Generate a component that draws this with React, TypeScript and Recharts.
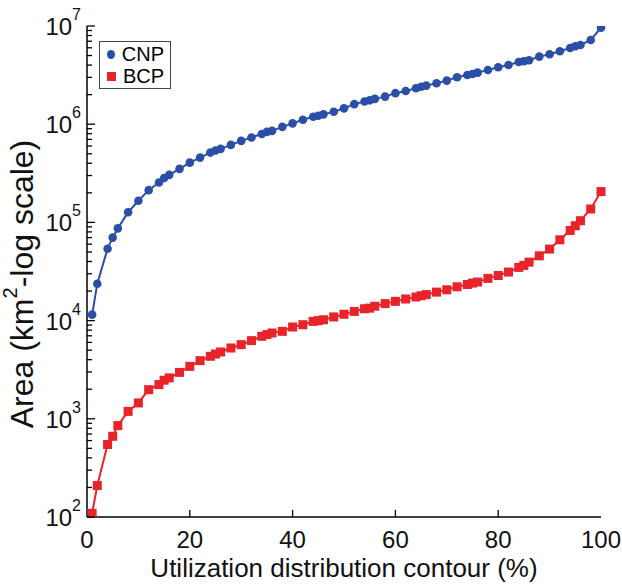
import React from 'react';
import {
  LineChart,
  Line,
  XAxis,
  YAxis,
  Legend,
  Label,
} from 'recharts';

// utilization distribution contour (%)
const contour = [
  1, 2, 4, 5, 6, 8, 10, 12, 14, 15, 16, 18, 20, 22, 24, 25, 26, 28, 30, 32, 34,
  35, 36, 38, 40, 42, 44, 45, 46, 48, 50, 52, 54, 55, 56, 58, 60, 62, 64, 65,
  66, 68, 70, 72, 74, 75, 76, 78, 80, 82, 84, 85, 86, 88, 90, 92, 94, 95, 96,
  98, 100,
];

// area, km2
const cnp = [
  11500, 23700, 54000, 70000, 87000, 127000, 166000, 213000, 255000, 283000,
  305000, 351000, 406000, 457000, 514000, 539000, 561000, 616000, 677000,
  731000, 796000, 835000, 855000, 940000, 1020000, 1110000, 1190000, 1220000,
  1260000, 1340000, 1450000, 1600000, 1700000, 1750000, 1810000, 1910000,
  2070000, 2180000, 2320000, 2410000, 2470000, 2610000, 2780000, 3010000,
  3170000, 3250000, 3350000, 3570000, 3800000, 4010000, 4300000, 4370000,
  4480000, 4880000, 5160000, 5530000, 5980000, 6220000, 6410000, 7210000,
  9600000,
];

const bcp = [
  109, 209, 547, 664, 853, 1190, 1450, 1980, 2230, 2470, 2610, 2970, 3420,
  3910, 4330, 4570, 4790, 5260, 5690, 6250, 6920, 7200, 7480, 7770, 8600, 9080,
  9820, 10000, 10200, 10900, 11600, 12400, 13200, 13400, 14000, 14900, 15700,
  16600, 17400, 17900, 18400, 19500, 20600, 22100, 23300, 24100, 24700, 26900,
  28800, 31200, 34800, 36500, 39400, 45700, 53500, 66500, 82800, 92500, 104000,
  137000, 206000,
];

const xTicks = [0, 20, 40, 60, 80, 100];
const decades = [2, 3, 4, 5, 6, 7];
const yTicks = decades.flatMap((d) =>
  d === 7
    ? [10 ** d]
    : [1, 2, 3, 4, 5, 6, 7, 8, 9].map((m) => m * 10 ** d)
);

const data = contour.map((x, i) => ({ x, cnp: cnp[i], bcp: bcp[i] }));

const BLUE = '#2b4fa6';
const RED = '#e8232a';
const FONT = '"Liberation Sans", Arial, sans-serif';

const W = 622;
const H = 585;
const PLOT_L = 87;
const PLOT_R = 601;
const PLOT_T = 26;
const PLOT_B = 517;

const isMajor = (v: number) => {
  const e = Math.log10(v);
  return Math.abs(e - Math.round(e)) < 1e-6;
};

const LeftTick = (props: any) => {
  const { y, payload } = props;
  const v = payload.value;
  const major = isMajor(v);
  return (
    <g>
      <line x1={PLOT_L} x2={PLOT_L + (major ? 8 : 5)} y1={y} y2={y} stroke='#000' strokeWidth={1.3} />
      {major && (
        <text x={PLOT_L - 6} y={y + 9} textAnchor='end' fontFamily={FONT} fill='#111'>
          <tspan fontSize={24}>10</tspan>
          <tspan fontSize={16} dy={-15}>
            {Math.round(Math.log10(v))}
          </tspan>
        </text>
      )}
    </g>
  );
};

const RightTick = (props: any) => {
  const { y, payload } = props;
  const major = isMajor(payload.value);
  return (
    <line x1={PLOT_R} x2={PLOT_R - (major ? 8 : 5)} y1={y} y2={y} stroke='#000' strokeWidth={1.3} />
  );
};

const BottomTick = (props: any) => {
  const { x, payload } = props;
  const v = payload.value;
  return (
    <g>
      {v > 0 && v < 100 && (
        <line x1={x} x2={x} y1={PLOT_B} y2={PLOT_B - 7} stroke='#000' strokeWidth={1.3} />
      )}
      <text x={x} y={PLOT_B + 31} textAnchor='middle' fontSize={24} fontFamily={FONT} fill='#111'>
        {v}
      </text>
    </g>
  );
};

const TopTick = (props: any) => {
  const { x, payload } = props;
  const v = payload.value;
  if (v <= 0 || v >= 100) return <g />;
  return <line x1={x} x2={x} y1={PLOT_T} y2={PLOT_T + 7} stroke='#000' strokeWidth={1.3} />;
};

const LegendBox = () => (
  <div
    style={{
      border: '1px solid #444',
      background: '#fff',
      fontFamily: FONT,
      fontSize: 20,
      lineHeight: '22px',
      padding: '1px 6px 1px 7px',
      width: 57,
    }}
  >
    <div style={{ display: 'flex', alignItems: 'center' }}>
      <span
        style={{
          display: 'inline-block',
          width: 9,
          height: 9,
          borderRadius: '50%',
          background: BLUE,
          marginRight: 7,
        }}
      />
      CNP
    </div>
    <div style={{ display: 'flex', alignItems: 'center' }}>
      <span
        style={{
          display: 'inline-block',
          width: 9,
          height: 9,
          background: RED,
          marginRight: 7,
        }}
      />
      BCP
    </div>
  </div>
);

const SquareDot = (props: any) => {
  const { cx, cy, index } = props;
  if (cx == null || cy == null) return <g key={`s-${index}`} />;
  return <rect key={`s-${index}`} x={cx - 4.5} y={cy - 4.5} width={9} height={9} fill={RED} />;
};

const YTitle = () => {
  const cx = 22;
  const cy = 284;
  return (
    <text
      x={cx}
      y={cy}
      transform={`rotate(-90 ${cx} ${cy})`}
      textAnchor='middle'
      dominantBaseline='central'
      fontSize={32}
      fontFamily={FONT}
      fill='#111'
    >
      Area (km<tspan fontSize={20} dy={-12}>2</tspan>
      <tspan dy={12}>-log scale)</tspan>
    </text>
  );
};

const App: React.FC = () => {
  return (
    <div style={{ position: 'absolute', left: 0, top: 0, width: W, height: H, background: '#fff' }}>
      <LineChart
        width={W}
        height={H}
        data={data}
        margin={{ top: PLOT_T, right: W - PLOT_R, bottom: 0, left: 0 }}
      >
        <XAxis
          dataKey='x'
          type='number'
          domain={[0, 100]}
          ticks={xTicks}
          height={H - PLOT_B}
          axisLine={{ stroke: '#000', strokeWidth: 1.5 }}
          tickLine={false}
          tick={<BottomTick />}
          interval={0}
        >
          <Label
            value='Utilization distribution contour (%)'
            position='insideBottom'
            offset={8}
            style={{ fontSize: 26, fontFamily: FONT, fill: '#111' }}
          />
        </XAxis>
        <XAxis
          xAxisId='top'
          orientation='top'
          type='number'
          domain={[0, 100]}
          ticks={xTicks}
          height={0}
          axisLine={{ stroke: '#000', strokeWidth: 1.5 }}
          tickLine={false}
          tick={<TopTick />}
          interval={0}
        />
        <YAxis
          type='number'
          scale='log'
          domain={[100, 10000000]}
          ticks={yTicks}
          width={PLOT_L}
          axisLine={{ stroke: '#000', strokeWidth: 1.5 }}
          tickLine={false}
          tick={<LeftTick />}
          interval={0}
          allowDataOverflow
        >
          <Label content={<YTitle />} />
        </YAxis>
        <YAxis
          yAxisId='right'
          orientation='right'
          type='number'
          scale='log'
          domain={[100, 10000000]}
          ticks={yTicks}
          width={0}
          axisLine={{ stroke: '#000', strokeWidth: 1.5 }}
          tickLine={false}
          tick={<RightTick />}
          interval={0}
          allowDataOverflow
        />
        <Legend
          layout='horizontal'
          align='center'
          verticalAlign='middle'
          content={<LegendBox />}
          wrapperStyle={{ left: 99, top: 41, width: 'auto' }}
        />
        <Line
          type='linear'
          dataKey='cnp'
          stroke={BLUE}
          strokeWidth={2}
          dot={{ r: 4.3, fill: BLUE, stroke: BLUE, strokeWidth: 0 }}
          isAnimationActive={false}
        />
        <Line
          type='linear'
          dataKey='bcp'
          stroke={RED}
          strokeWidth={2}
          dot={<SquareDot />}
          isAnimationActive={false}
        />
      </LineChart>
    </div>
  );
};

export default App;
